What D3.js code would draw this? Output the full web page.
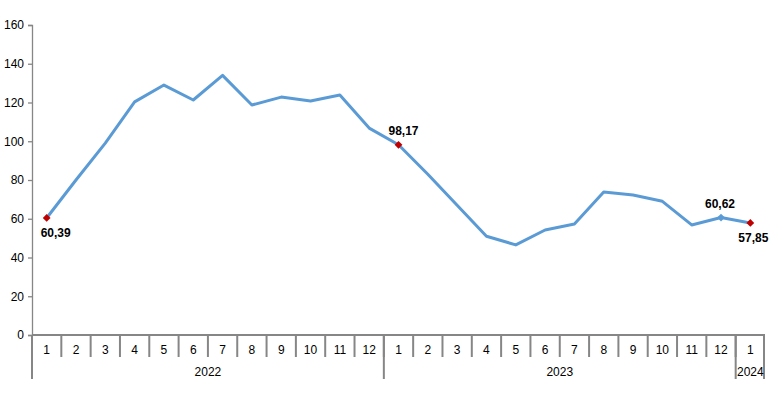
<!DOCTYPE html>
<html><head><meta charset="utf-8">
<script src="https://cdn.jsdelivr.net/npm/d3@7"></script>
<style>body{margin:0;background:#fff}svg{display:block}text{font-family:"Liberation Sans",Arial,sans-serif}</style>
</head><body><svg id="c" width="771" height="395"></svg>
<script>
const months = ["1","2","3","4","5","6","7","8","9","10","11","12","1","2","3","4","5","6","7","8","9","10","11","12","1"];
const years = [{label:"2022", start:0, count:12},{label:"2023", start:12, count:12},{label:"2024", start:24, count:1}];
const values = [60.39,80,99,120.3,129,121.3,134,118.7,122.8,120.8,123.9,106.8,98.17,83,67,51,46.5,54.2,57.3,73.8,72.3,69,56.8,60.62,57.85];
const yTicks = [0,20,40,60,80,100,120,140,160];
const labelled = [{i:0, text:"60,39", pos:"below", red:true},{i:12, text:"98,17", pos:"above", red:true},{i:23, text:"60,62", pos:"above", red:false},{i:24, text:"57,85", pos:"below", red:true}];

(function(){
const svg = d3.select("#c");
const pL = 32, pR = 765, pT = 25, pB = 335;
const idx = d3.range(values.length);
const x = d3.scaleBand().domain(idx).range([pL, pR]).padding(0);
const y = d3.scaleLinear().domain([0,160]).range([pB, pT]);
const axisColor = "#868686";

const ya = svg.append("g").attr("transform",`translate(${pL},0)`)
  .call(d3.axisLeft(y).tickValues(yTicks).tickSize(4).tickPadding(4));
ya.select(".domain").attr("stroke",axisColor).attr("stroke-width",1.3);
ya.selectAll(".tick line").attr("stroke",axisColor).attr("stroke-width",1.3);
ya.selectAll("text").attr("font-size",12).attr("fill","#000");

svg.append("line").attr("x1",pL).attr("x2",pR).attr("y1",pB).attr("y2",pB)
  .attr("stroke",axisColor).attr("stroke-width",2);
idx.forEach(i=>{
  if (i===0) return;
  svg.append("line").attr("x1",x(i)).attr("x2",x(i)).attr("y1",pB).attr("y2",pB+22)
    .attr("stroke",axisColor).attr("stroke-width",2);
});
const yearBounds = years.map(d=>d.start).concat([values.length]);
yearBounds.forEach(b=>{
  const xx = b===values.length ? pR-1 : x(b);
  svg.append("line").attr("x1",xx).attr("x2",xx).attr("y1",pB).attr("y2",pB+44)
    .attr("stroke",axisColor).attr("stroke-width",2);
});
svg.selectAll("text.m").data(months).join("text").attr("class","m")
  .attr("x",(d,i)=>x(i)+x.bandwidth()/2).attr("y",pB+19)
  .attr("text-anchor","middle").attr("font-size",12).attr("fill","#000").text(d=>d);
svg.selectAll("text.yr").data(years).join("text").attr("class","yr")
  .attr("x",d=>(x(d.start)+ (d.start+d.count>=values.length? pR : x(d.start+d.count)))/2)
  .attr("y",pB+41).attr("text-anchor","middle").attr("font-size",12).attr("fill","#000").text(d=>d.label);

const line = d3.line().x((d,i)=>x(i)+x.bandwidth()/2).y(d=>y(d));
svg.append("path").datum(values).attr("d",line).attr("fill","none")
  .attr("stroke","#5b9bd5").attr("stroke-width",3).attr("stroke-linejoin","round");

const dx = {0:9, 12:5, 23:-1, 24:3};
labelled.forEach(l=>{
  const cx = x(l.i)+x.bandwidth()/2, cy = y(values[l.i]);
  svg.append("path").attr("d",d3.symbol(d3.symbolSquare,30)())
    .attr("transform",`translate(${cx},${cy}) rotate(45)`)
    .attr("fill", l.red ? "#c00000" : "#5b9bd5");
  svg.append("text").attr("x",cx+dx[l.i]).attr("y", l.pos==="above"? cy-10 : cy+19)
    .attr("text-anchor","middle").attr("font-size",12).attr("font-weight","bold").attr("fill","#000").text(l.text);
});
})();
</script></body></html>
